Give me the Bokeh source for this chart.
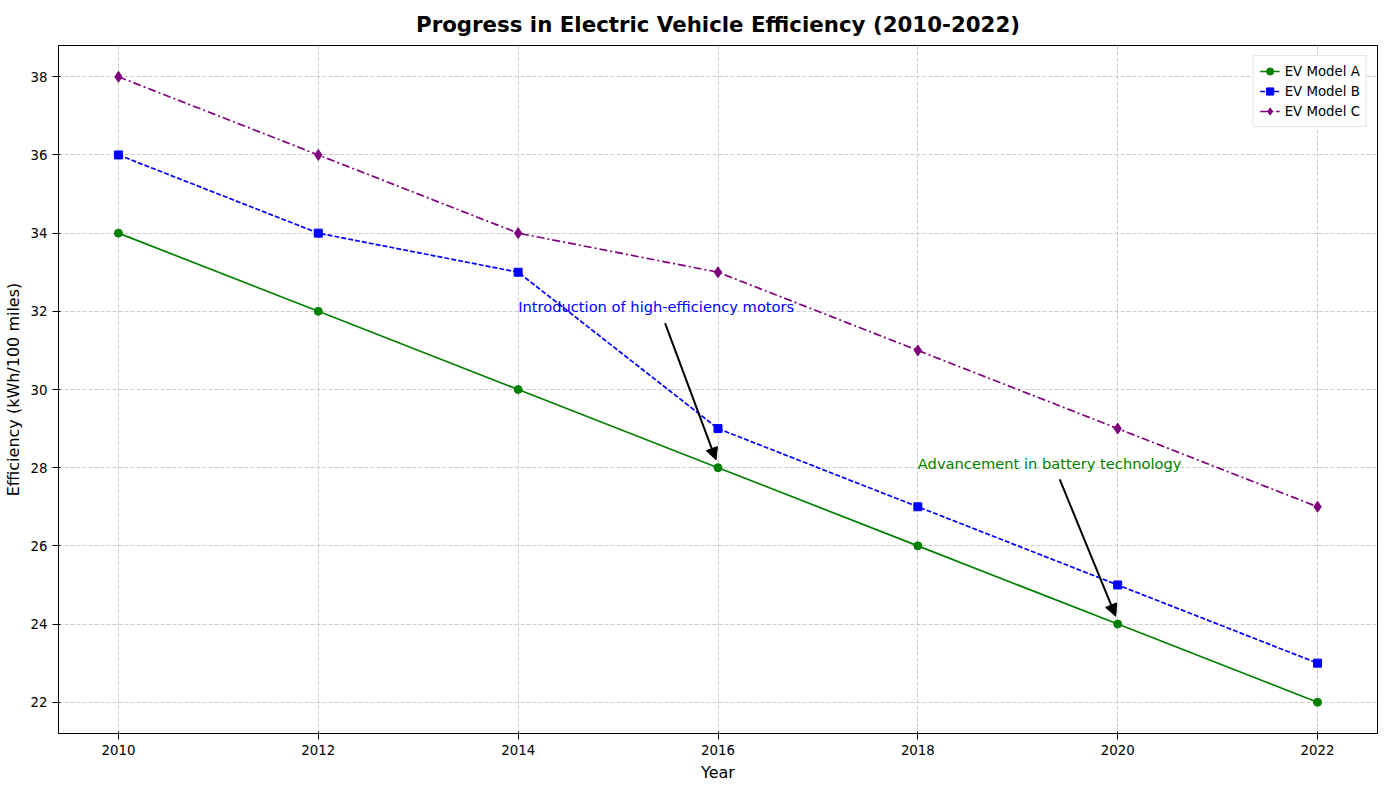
from bokeh.plotting import figure
from bokeh.models import Range1d, Arrow, NormalHead, Label, Legend, LegendItem, FixedTicker
from bokeh.embed import file_html
from bokeh.resources import INLINE

years = [2010, 2012, 2014, 2016, 2018, 2020, 2022]
model_a = [34, 32, 30, 28, 26, 24, 22]
model_b = [36, 34, 33, 29, 27, 25, 23]
model_c = [38, 36, 34, 33, 31, 29, 27]

p = figure(width=1384, height=784, output_backend="svg", toolbar_location=None,
           title="Progress in Electric Vehicle Efficiency (2010-2022)",
           x_range=Range1d(2009.4, 2022.6), y_range=Range1d(21.2, 38.8),
           min_border_left=58, min_border_right=7, min_border_bottom=46)
p.title.align = "center"
p.title.text_font = "DejaVu Sans"
p.title.text_font_size = "16pt"
p.title.text_font_style = "bold"
p.title.text_color = "black"
p.title.standoff = 18
p.outline_line_color = "black"
p.xaxis.axis_label = "Year"
p.yaxis.axis_label = "Efficiency (kWh/100 miles)"
for ax in (p.xaxis, p.yaxis):
    ax.axis_label_text_font = "DejaVu Sans"
    ax.axis_label_text_font_size = "12pt"
    ax.axis_label_text_font_style = "normal"
    ax.axis_label_text_color = "black"
    ax.major_label_text_font = "DejaVu Sans"
    ax.major_label_text_font_size = "10pt"
    ax.major_label_text_color = "black"
    ax.axis_line_color = "black"
    ax.major_tick_line_color = "black"
    ax.minor_tick_line_color = None
p.xaxis.ticker = FixedTicker(ticks=years)
p.yaxis.ticker = FixedTicker(ticks=list(range(22, 39, 2)))
p.grid.grid_line_color = "#cccccc"
p.grid.grid_line_dash = "4 2"

la = p.line(years, model_a, color="green", line_width=1.7)
ma = p.scatter(years, model_a, color="green", size=8, marker="circle")
lb = p.line(years, model_b, color="blue", line_width=1.7, line_dash="5 2")
mb = p.scatter(years, model_b, color="blue", size=8, marker="square")
lc = p.line(years, model_c, color="purple", line_width=1.7, line_dash="8 3 2 3")
mc = p.scatter(years, model_c, color="purple", size=11, marker="diamond")

legend = Legend(items=[LegendItem(label="EV Model A", renderers=[la, ma]),
                       LegendItem(label="EV Model B", renderers=[lb, mb]),
                       LegendItem(label="EV Model C", renderers=[lc, mc])],
                location="top_right", label_text_font="DejaVu Sans",
                label_text_font_size="10pt", label_text_color="black",
                border_line_color="#cccccc",
                spacing=2, padding=6, label_height=18, glyph_height=18)
p.add_layout(legend)

p.add_layout(Label(x=2014, y=31.9, text="Introduction of high-efficiency motors",
                   text_color="blue", text_font="DejaVu Sans", text_font_size="11pt"))
p.add_layout(Arrow(end=NormalHead(size=12, fill_color="black"), x_start=2015.47, y_start=31.7,
                   x_end=2015.98, y_end=28.2, line_width=2))
p.add_layout(Label(x=2018, y=27.9, text="Advancement in battery technology",
                   text_color="green", text_font="DejaVu Sans", text_font_size="11pt"))
p.add_layout(Arrow(end=NormalHead(size=12, fill_color="black"), x_start=2019.42, y_start=27.7,
                   x_end=2019.98, y_end=24.2, line_width=2))

open("out.html", "w").write(file_html(p, INLINE))
